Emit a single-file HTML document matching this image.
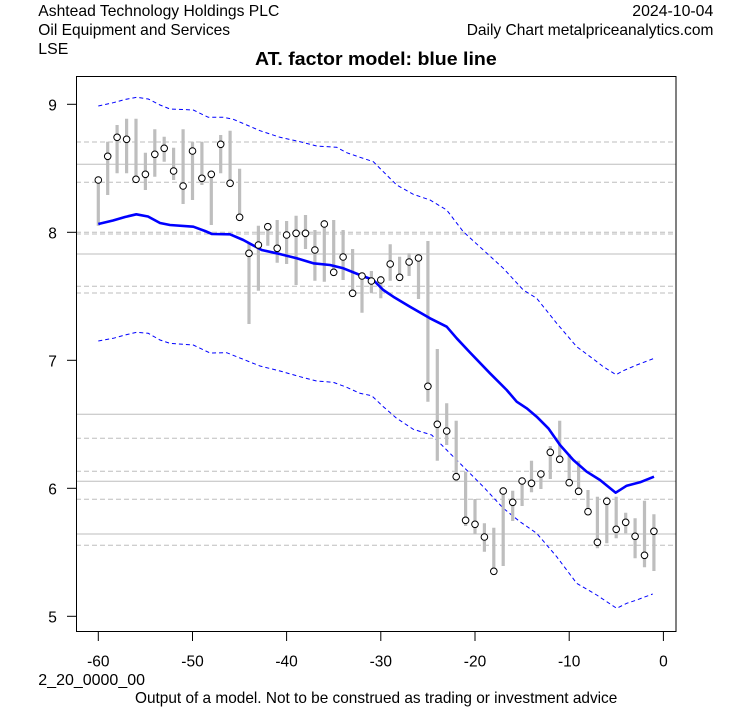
<!DOCTYPE html>
<html>
<head>
<meta charset="utf-8">
<style>
html,body{margin:0;padding:0;background:#fff;}
svg{display:block;}
text{font-family:"Liberation Sans",Arial,sans-serif;fill:#000;}
</style>
</head>
<body>
<svg width="753" height="708" viewBox="0 0 753 708" xmlns="http://www.w3.org/2000/svg">
<rect x="0" y="0" width="753" height="708" fill="#fff"/>
<text x="38.3" y="16" font-size="16" textLength="241" lengthAdjust="spacingAndGlyphs">Ashtead Technology Holdings PLC</text>
<text x="38.3" y="35" font-size="16" textLength="191.7" lengthAdjust="spacingAndGlyphs">Oil Equipment and Services</text>
<text x="38.3" y="54" font-size="16" textLength="30" lengthAdjust="spacingAndGlyphs">LSE</text>
<text x="632.3" y="16" font-size="16" textLength="81" lengthAdjust="spacingAndGlyphs">2024-10-04</text>
<text x="466.7" y="35" font-size="16" textLength="246.7" lengthAdjust="spacingAndGlyphs">Daily Chart metalpriceanalytics.com</text>
<text x="255" y="65" font-size="18" font-weight="bold" textLength="241.7" lengthAdjust="spacingAndGlyphs">AT. factor model: blue line</text>
<g stroke="#bebebe" stroke-width="1" fill="none">
<line x1="76" y1="164.3" x2="676" y2="164.3"/>
<line x1="76" y1="254" x2="676" y2="254"/>
<line x1="76" y1="414.3" x2="676" y2="414.3"/>
<line x1="76" y1="481.3" x2="676" y2="481.3"/>
<line x1="76" y1="534" x2="676" y2="534"/>
</g>
<g stroke="#bebebe" stroke-width="1" fill="none" stroke-dasharray="5,3">
<line x1="76" y1="142" x2="673" y2="142"/>
<line x1="76" y1="182.3" x2="673" y2="182.3"/>
<line x1="76" y1="232.3" x2="673" y2="232.3"/>
<line x1="76" y1="234" x2="673" y2="234"/>
<line x1="76" y1="286.3" x2="673" y2="286.3"/>
<line x1="76" y1="293" x2="673" y2="293"/>
<line x1="76" y1="438.3" x2="673" y2="438.3"/>
<line x1="76" y1="471.3" x2="673" y2="471.3"/>
<line x1="76" y1="499.3" x2="673" y2="499.3"/>
<line x1="76" y1="545.3" x2="673" y2="545.3"/>
</g>
<g stroke="#0000ff" stroke-width="1" fill="none" stroke-dasharray="4,3">
<polyline points="98.3,106 113.3,102.7 125,99.5 136.7,97.3 148.3,99 160,105 170,109 193.3,110 208.3,117.3 223.3,117.3 233.3,119.3 246.7,125 260,130.7 280,137.3 300,141.7 316.7,146 336.7,147.3 346.7,152.7 360,157.3 373.3,161.7 383.3,171.7 396.7,185 413.3,194.3 430,200 446.7,210 463.3,231.7 483.3,250 503.3,268.3 523.3,290 536.7,298.3 556.7,323.3 576.7,346.7 593.3,359 603.3,366.7 616,374.7 623.3,370.7 636.7,365 654.3,358.3"/>
<polyline points="98.3,341 113.3,338.3 125,335 136.7,332.3 148.3,333.3 160,340 170,343.3 193.3,345 210,353 226.7,352.7 246.7,360.7 260,366 280,371 300,376.7 316.7,381 333.3,382.3 346.7,387.3 360,393.3 371.7,395.7 383.3,406.7 396.7,418.3 413.3,429.3 431.7,435 446.7,450 463.3,466.7 483.3,486.7 503.3,508.3 520,521.7 536.7,533.3 556.7,556.7 576.7,583.3 596.7,595 616.7,608.3 626.7,603.3 636.7,600 652.7,594"/>
</g>
<path stroke="#bebebe" stroke-width="3.2" fill="none" d="M98.3 180V225.7 M107.7 141.7V195 M117.1 125V173.3 M126.6 118.7V173.3 M136 118.7V181.7 M145.4 152.7V190 M154.8 129.3V176.7 M164.2 136.7V161.7 M173.6 147.7V180 M183.1 129.3V204 M192.5 141.7V200 M201.9 141.7V185 M211.3 174.3V225 M220.7 135V173.3 M230.1 130.7V183.3 M239.6 168.7V217.3 M249 242.7V324 M258.4 225.7V290.7 M267.8 225.7V245.7 M277.2 220V262.7 M286.6 221V264 M296.1 215.7V285 M305.5 215V249 M314.9 230V280.7 M324.3 220V281.7 M333.7 220V273.3 M343.1 230V280 M352.6 249V293.3 M362 276V312.7 M371.4 271V293.3 M380.8 276V298.3 M390.2 244.3V280.7 M399.6 256.7V277.3 M409.1 253.3V276 M418.5 258V299 M427.9 241V401.7 M437.3 349V460.7 M446.7 403.3V445 M456.2 420.7V481.7 M465.6 471.7V526 M475 499V534.3 M484.4 523.3V551.7 M493.8 527.7V571.3 M503.2 487.3V566 M512.7 490.7V521 M522.1 481V506 M531.5 460.7V492.3 M540.9 474V489 M550.3 446V479 M559.7 420.7V459.3 M569.2 454.3V482.7 M578.6 460.7V491.3 M588 490V511.7 M597.4 496.7V548.3 M606.8 496.7V543.3 M616.2 496.7V538.3 M625.7 512.7V533.3 M635.1 518.3V558.3 M644.5 500.7V567.3 M653.9 514.3V571"/>
<polyline stroke="#0000ff" stroke-width="2.6" fill="none" stroke-linejoin="round" points="98.3,224 113,220.5 125,217 136.3,214.3 148,216.5 160,223 170,225 193.3,226.7 205,231 212,234 230,234.3 243.3,240 261.7,250 276.7,253.3 296.7,258.3 313.3,263.3 330,265 343.3,268.3 360,275 373.3,280 383.3,290 393.3,296.7 410,306.7 430,318.3 446.7,326.7 456.7,338.3 470,352.5 490,373.3 506.7,390 516.7,401.7 526.7,408.3 536.7,416.7 548.3,428.3 560,445 573.3,460 586.7,471.7 600,480 615.7,492.7 626.7,485.7 640,482.3 654,476.7"/>
<g stroke="#000" stroke-width="1" fill="#fff">
<circle cx="98.3" cy="180" r="3.3"/>
<circle cx="107.7" cy="156.3" r="3.3"/>
<circle cx="117.1" cy="137.3" r="3.3"/>
<circle cx="126.6" cy="139.3" r="3.3"/>
<circle cx="136" cy="179.3" r="3.3"/>
<circle cx="145.4" cy="174.3" r="3.3"/>
<circle cx="154.8" cy="154.3" r="3.3"/>
<circle cx="164.2" cy="148.3" r="3.3"/>
<circle cx="173.6" cy="171" r="3.3"/>
<circle cx="183.1" cy="186" r="3.3"/>
<circle cx="192.5" cy="151" r="3.3"/>
<circle cx="201.9" cy="178.3" r="3.3"/>
<circle cx="211.3" cy="174.3" r="3.3"/>
<circle cx="220.7" cy="144.3" r="3.3"/>
<circle cx="230.1" cy="183.3" r="3.3"/>
<circle cx="239.6" cy="217.3" r="3.3"/>
<circle cx="249" cy="253.3" r="3.3"/>
<circle cx="258.4" cy="245" r="3.3"/>
<circle cx="267.8" cy="226.7" r="3.3"/>
<circle cx="277.2" cy="248.3" r="3.3"/>
<circle cx="286.6" cy="235" r="3.3"/>
<circle cx="296.1" cy="233.3" r="3.3"/>
<circle cx="305.5" cy="233.3" r="3.3"/>
<circle cx="314.9" cy="250" r="3.3"/>
<circle cx="324.3" cy="224" r="3.3"/>
<circle cx="333.7" cy="272.3" r="3.3"/>
<circle cx="343.1" cy="257" r="3.3"/>
<circle cx="352.6" cy="293.3" r="3.3"/>
<circle cx="362" cy="276" r="3.3"/>
<circle cx="371.4" cy="281" r="3.3"/>
<circle cx="380.8" cy="280" r="3.3"/>
<circle cx="390.2" cy="264" r="3.3"/>
<circle cx="399.6" cy="277.3" r="3.3"/>
<circle cx="409.1" cy="262" r="3.3"/>
<circle cx="418.5" cy="258" r="3.3"/>
<circle cx="427.9" cy="386.3" r="3.3"/>
<circle cx="437.3" cy="424.3" r="3.3"/>
<circle cx="446.7" cy="431" r="3.3"/>
<circle cx="456.2" cy="476.7" r="3.3"/>
<circle cx="465.6" cy="520.3" r="3.3"/>
<circle cx="475" cy="524.3" r="3.3"/>
<circle cx="484.4" cy="537" r="3.3"/>
<circle cx="493.8" cy="571.3" r="3.3"/>
<circle cx="503.2" cy="491" r="3.3"/>
<circle cx="512.7" cy="502.3" r="3.3"/>
<circle cx="522.1" cy="481" r="3.3"/>
<circle cx="531.5" cy="483.3" r="3.3"/>
<circle cx="540.9" cy="474" r="3.3"/>
<circle cx="550.3" cy="452.3" r="3.3"/>
<circle cx="559.7" cy="459.3" r="3.3"/>
<circle cx="569.2" cy="482.7" r="3.3"/>
<circle cx="578.6" cy="491.3" r="3.3"/>
<circle cx="588" cy="511.7" r="3.3"/>
<circle cx="597.4" cy="542.3" r="3.3"/>
<circle cx="606.8" cy="501.3" r="3.3"/>
<circle cx="616.2" cy="529.3" r="3.3"/>
<circle cx="625.7" cy="522.3" r="3.3"/>
<circle cx="635.1" cy="536.3" r="3.3"/>
<circle cx="644.5" cy="555.3" r="3.3"/>
<circle cx="653.9" cy="531.3" r="3.3"/>
</g>
<rect x="76.5" y="76.5" width="599.5" height="555" fill="none" stroke="#000" stroke-width="1"/>
<g stroke="#000" stroke-width="1">
<line x1="67" y1="104.3" x2="76" y2="104.3"/>
<line x1="67" y1="232.3" x2="76" y2="232.3"/>
<line x1="67" y1="360.3" x2="76" y2="360.3"/>
<line x1="67" y1="488.3" x2="76" y2="488.3"/>
<line x1="67" y1="616.3" x2="76" y2="616.3"/>
</g>
<g font-size="15.5" text-anchor="middle">
<text x="52.5" y="110.5">9</text>
<text x="52.5" y="238.5">8</text>
<text x="52.5" y="366.5">7</text>
<text x="52.5" y="494.5">6</text>
<text x="52.5" y="622.5">5</text>
</g>
<g stroke="#000" stroke-width="1">
<line x1="98.3" y1="632" x2="98.3" y2="641"/>
<line x1="192.5" y1="632" x2="192.5" y2="641"/>
<line x1="286.6" y1="632" x2="286.6" y2="641"/>
<line x1="380.8" y1="632" x2="380.8" y2="641"/>
<line x1="475" y1="632" x2="475" y2="641"/>
<line x1="569.2" y1="632" x2="569.2" y2="641"/>
<line x1="663.4" y1="632" x2="663.4" y2="641"/>
</g>
<g font-size="15.5" text-anchor="middle">
<text x="98.3" y="666.5">-60</text>
<text x="192.5" y="666.5">-50</text>
<text x="286.6" y="666.5">-40</text>
<text x="380.8" y="666.5">-30</text>
<text x="475" y="666.5">-20</text>
<text x="569.2" y="666.5">-10</text>
<text x="663.4" y="666.5">0</text>
</g>
<text x="38.3" y="685" font-size="16" textLength="106.7" lengthAdjust="spacingAndGlyphs">2_20_0000_00</text>
<text x="135" y="703" font-size="16" textLength="482.3" lengthAdjust="spacingAndGlyphs">Output of a model. Not to be construed as trading or investment advice</text>
</svg>
</body>
</html>
